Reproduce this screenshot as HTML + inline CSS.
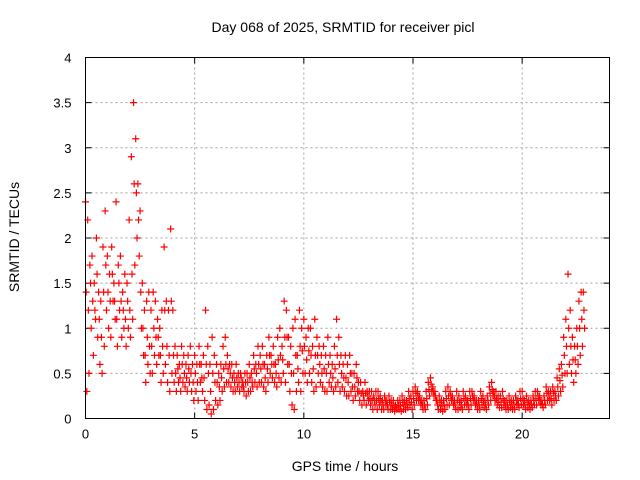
<!DOCTYPE html>
<html><head><meta charset="utf-8"><style>
body{margin:0;background:#fff;}
svg{display:block;font-family:"Liberation Sans",sans-serif;}
</style></head><body>
<svg id="chart" width="640" height="480">
<text x="343" y="32" text-anchor="middle" font-size="14">Day 068 of 2025, SRMTID for receiver picl</text>
<text x="345" y="471" text-anchor="middle" font-size="14">GPS time / hours</text>
<text transform="translate(19,237) rotate(-90)" text-anchor="middle" font-size="14">SRMTID / TECUs</text>
<g id="grid"></g>
<g id="ticks"></g>
<g id="points"></g>
<rect x="85.5" y="57.5" width="524" height="361" fill="none" stroke="#000" stroke-width="1"/>
</svg>
<script>
const xTicks=[0,5,10,15,20];
const yTicks=[0,0.5,1,1.5,2,2.5,3,3.5,4];
const yTickLabels=["0","0.5","1","1.5","2","2.5","3","3.5","4"];
const tStep=0.1;
const upperValues=[2.4,2.2,1.7,1.8,1.5,2.0,1.4,1.3,1.9,2.3,
1.8,1.6,1.9,1.5,2.4,1.7,1.8,1.4,1.6,1.5,
2.2,2.9,3.5,3.1,2.6,2.3,1.5,1.2,1.3,1.4,
1.2,1.4,1.3,1.1,1.0,1.2,1.9,1.3,1.2,2.1,
1.2,0.8,0.7,0.6,0.8,0.7,0.6,0.7,0.8,0.6,
0.7,0.6,0.8,0.6,0.7,1.2,0.8,0.6,0.9,0.7,
0.6,0.5,0.6,0.8,0.9,0.7,0.6,0.6,0.5,0.6,
0.5,0.5,0.4,0.5,0.5,0.6,0.5,0.7,0.6,0.8,
0.7,0.8,0.6,0.7,0.9,0.7,0.8,0.6,0.9,1.0,
0.8,1.3,1.2,0.9,0.8,1.0,1.1,0.7,1.2,1.0,
1.1,0.9,1.0,1.0,0.8,1.1,0.9,0.8,0.7,0.8,
0.7,0.9,0.7,0.6,0.8,1.1,0.9,0.7,0.6,0.7,
0.6,0.7,0.5,0.5,0.6,0.4,0.4,0.3,0.4,0.3,
0.3,0.3,0.25,0.3,0.3,0.25,0.2,0.25,0.2,0.25,
0.2,0.2,0.15,0.2,0.2,0.25,0.2,0.2,0.3,0.25,
0.3,0.35,0.3,0.25,0.2,0.2,0.3,0.4,0.45,0.35,
0.3,0.2,0.25,0.2,0.2,0.3,0.35,0.3,0.25,0.2,
0.3,0.25,0.2,0.3,0.25,0.2,0.3,0.3,0.25,0.2,
0.2,0.3,0.25,0.2,0.25,0.35,0.4,0.3,0.3,0.25,
0.25,0.3,0.2,0.2,0.25,0.2,0.2,0.25,0.2,0.3,
0.3,0.2,0.25,0.2,0.2,0.25,0.3,0.3,0.25,0.2,
0.25,0.35,0.3,0.3,0.35,0.3,0.45,0.55,0.6,0.9,
1.1,1.6,1.2,0.9,0.8,1.0,1.3,1.4,1.4];
const midValues=[1.4,1.2,1.5,1.3,1.2,1.6,1.1,0.9,1.4,1.7,
1.4,1.3,1.6,1.3,1.1,1.5,1.3,1.2,1.1,1.3,
1.2,1.6,2.6,2.5,2.2,1.4,1.0,0.7,0.9,0.8,
0.8,1.0,0.9,0.9,0.7,0.8,1.2,0.8,0.7,1.3,
0.7,0.5,0.55,0.45,0.6,0.5,0.45,0.55,0.5,0.4,
0.5,0.4,0.6,0.45,0.45,0.6,0.5,0.3,0.5,0.4,
0.4,0.35,0.45,0.55,0.6,0.55,0.5,0.45,0.4,0.45,
0.4,0.45,0.35,0.4,0.4,0.45,0.4,0.55,0.5,0.6,
0.55,0.6,0.45,0.55,0.7,0.6,0.6,0.5,0.65,0.7,
0.65,0.9,0.9,0.6,0.5,0.5,0.7,0.55,0.8,0.75,
0.8,0.65,0.75,0.7,0.55,0.7,0.7,0.6,0.5,0.55,
0.5,0.6,0.5,0.45,0.55,0.7,0.6,0.5,0.45,0.45,
0.4,0.5,0.35,0.35,0.45,0.3,0.28,0.25,0.28,0.25,
0.22,0.2,0.2,0.2,0.22,0.18,0.15,0.2,0.15,0.18,
0.15,0.14,0.12,0.15,0.14,0.18,0.15,0.16,0.22,0.18,
0.22,0.28,0.25,0.2,0.15,0.15,0.22,0.32,0.38,0.3,
0.25,0.15,0.18,0.14,0.15,0.22,0.25,0.25,0.2,0.15,
0.2,0.18,0.15,0.22,0.2,0.15,0.22,0.25,0.2,0.15,
0.15,0.22,0.18,0.15,0.2,0.28,0.32,0.25,0.22,0.18,
0.18,0.22,0.15,0.15,0.18,0.15,0.15,0.2,0.16,0.22,
0.22,0.15,0.18,0.15,0.16,0.2,0.22,0.25,0.2,0.16,
0.2,0.28,0.25,0.22,0.28,0.25,0.35,0.42,0.48,0.7,
0.8,1.0,0.8,0.65,0.65,0.8,1.0,1.1,1.2];
const lowerValues=[0.3,0.5,1.0,0.7,1.1,0.9,0.6,0.5,0.8,1.2,
1.0,0.9,1.3,1.1,0.8,1.2,0.9,1.0,0.8,1.0,
0.9,1.1,1.7,2.0,1.8,1.0,0.7,0.4,0.6,0.5,
0.5,0.7,0.6,0.7,0.4,0.5,0.6,0.4,0.3,0.5,
0.4,0.3,0.4,0.3,0.4,0.35,0.3,0.4,0.3,0.2,
0.3,0.2,0.4,0.3,0.2,0.1,0.15,0.05,0.1,0.2,
0.15,0.2,0.3,0.35,0.4,0.4,0.35,0.3,0.3,0.35,
0.3,0.35,0.3,0.25,0.3,0.3,0.35,0.4,0.35,0.4,
0.4,0.35,0.3,0.4,0.5,0.45,0.4,0.35,0.45,0.4,
0.5,0.4,0.6,0.3,0.15,0.1,0.3,0.4,0.3,0.5,
0.5,0.4,0.5,0.4,0.3,0.35,0.5,0.4,0.35,0.3,
0.3,0.4,0.35,0.3,0.35,0.4,0.3,0.35,0.3,0.25,
0.25,0.3,0.2,0.25,0.3,0.2,0.15,0.2,0.15,0.2,
0.15,0.1,0.15,0.1,0.15,0.1,0.1,0.15,0.1,0.1,
0.1,0.08,0.1,0.1,0.08,0.1,0.1,0.12,0.15,0.1,
0.15,0.2,0.2,0.15,0.1,0.1,0.15,0.25,0.3,0.25,
0.2,0.1,0.1,0.08,0.1,0.15,0.15,0.2,0.15,0.1,
0.1,0.12,0.1,0.15,0.15,0.1,0.15,0.2,0.15,0.1,
0.1,0.15,0.12,0.1,0.15,0.2,0.25,0.2,0.15,0.12,
0.12,0.15,0.1,0.1,0.12,0.1,0.1,0.15,0.12,0.15,
0.15,0.1,0.12,0.1,0.12,0.15,0.15,0.2,0.15,0.12,
0.15,0.2,0.2,0.15,0.2,0.2,0.25,0.3,0.35,0.5,
0.5,0.6,0.5,0.4,0.5,0.6,0.7,0.8,1.0];
const NS="http://www.w3.org/2000/svg";
const X0=85.5,X1=609.5,Y0=418.5,Y1=57.5;
function xs(t){return X0+(t/24)*(X1-X0);}
function ys(v){return Y0-(v/4)*(Y0-Y1);}
const grid=document.getElementById('grid'),ticks=document.getElementById('ticks'),pts=document.getElementById('points');
function mk(tag,attrs,parent){const e=document.createElementNS(NS,tag);for(const k in attrs)e.setAttribute(k,attrs[k]);parent.appendChild(e);return e;}
xTicks.forEach(t=>{const x=xs(t);
 if(t>0){const g=mk('line',{x1:x,x2:x,y1:Y1,y2:Y0,stroke:'#a0a0a0','stroke-dasharray':'2,3'},grid);
 
 }
 const l=mk('path',{d:`M${x},${Y0}V${Y0-6}M${x},${Y1}V${Y1+6}`,stroke:'#000'},ticks);
 
 
 const tx=mk('text',{x:x,y:Y0+20,'text-anchor':'middle','font-size':13},ticks);tx.textContent=t;
 
 
});
yTicks.forEach((v,i)=>{const y=ys(v);
 if(v>0&&v<4){const g=mk('line',{x1:X0,x2:X1,y1:y,y2:y,stroke:'#a0a0a0','stroke-dasharray':'2,3'},grid);
 
 }
 const l=mk('path',{d:`M${X0},${y}H${X0+6}M${X1},${y}H${X1-6}`,stroke:'#000'},ticks);
 
 
 const tx=mk('text',{x:X0-14,y:y+5,'text-anchor':'end','font-size':13},ticks);tx.textContent=yTickLabels[i];
 
 
});
function plus(t,v){const x=xs(t),y=ys(v);
 const p=mk('path',{d:`M${x-3.5},${y}H${x+3.5}M${x},${y-3.5}V${y+3.5}`,stroke:'#ff0000','stroke-width':1.2,fill:'none'},pts);
 
 
}
upperValues.forEach((v,i)=>plus(i*tStep,v));
midValues.forEach((v,i)=>plus(i*tStep+tStep*0.3,v));
lowerValues.forEach((v,i)=>plus(i*tStep+tStep*0.6,v));
</script>
</body></html>
